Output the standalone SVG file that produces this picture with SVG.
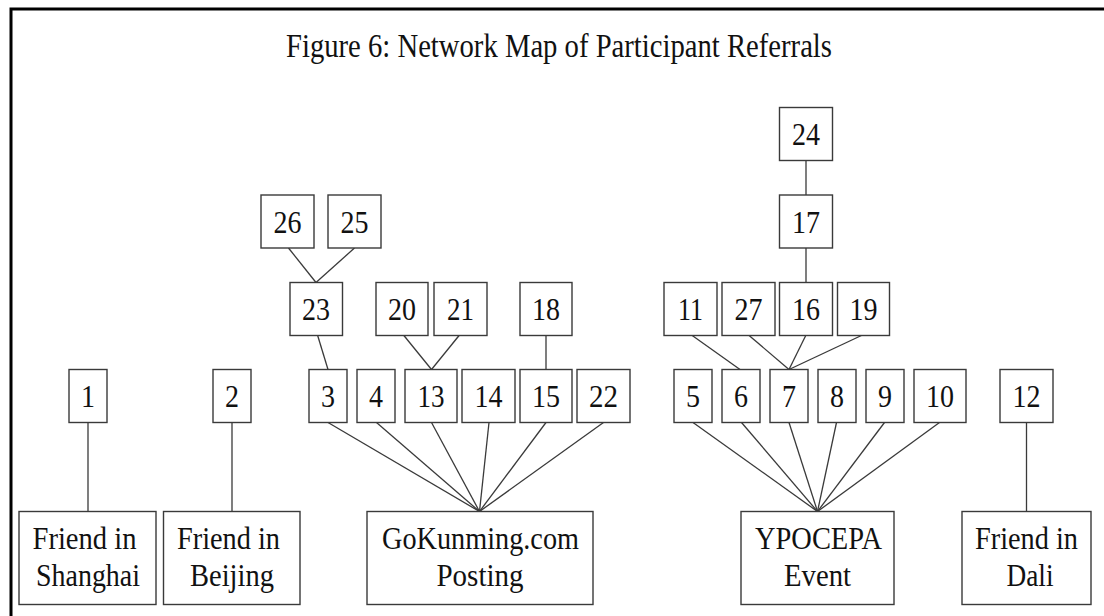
<svg xmlns="http://www.w3.org/2000/svg" width="1104" height="616" viewBox="0 0 1104 616">
<style>
.b{fill:#fff;stroke:#3a3a3a;stroke-width:1.4}
.t{font-family:"Liberation Serif","Times New Roman",serif;font-size:32px;fill:#111;text-anchor:middle}
.l{font-family:"Liberation Serif","Times New Roman",serif;font-size:31px;fill:#111;text-anchor:middle}
#connectors line{stroke:#3a3a3a;stroke-width:1.3}
</style>
<rect width="1104" height="616" fill="#fff"/>
<path d="M11,620 V9 H1110" fill="none" stroke="#000" stroke-width="3"/>
<text x="559" y="57" font-family="Liberation Serif, Times New Roman, serif" font-size="33" fill="#111" text-anchor="middle" textLength="546" lengthAdjust="spacingAndGlyphs">Figure 6: Network Map of Participant Referrals</text>
<g id="connectors">
<line x1="88" y1="422.5" x2="88" y2="511.5"/>
<line x1="232" y1="422.5" x2="232" y2="511.5"/>
<line x1="1026.5" y1="422.5" x2="1026.5" y2="511.5"/>
<line x1="328" y1="422.5" x2="479.5" y2="511.5"/>
<line x1="376.5" y1="422.5" x2="479.5" y2="511.5"/>
<line x1="431.5" y1="422.5" x2="479.5" y2="511.5"/>
<line x1="489" y1="422.5" x2="479.5" y2="511.5"/>
<line x1="546" y1="422.5" x2="479.5" y2="511.5"/>
<line x1="603.5" y1="422.5" x2="479.5" y2="511.5"/>
<line x1="693" y1="422.5" x2="817.5" y2="511.5"/>
<line x1="741.5" y1="422.5" x2="817.5" y2="511.5"/>
<line x1="789" y1="422.5" x2="817.5" y2="511.5"/>
<line x1="836.5" y1="422.5" x2="817.5" y2="511.5"/>
<line x1="884.5" y1="422.5" x2="817.5" y2="511.5"/>
<line x1="939.5" y1="422.5" x2="817.5" y2="511.5"/>
<line x1="317.5" y1="335" x2="328" y2="369.5"/>
<line x1="288.5" y1="248" x2="316" y2="282.5"/>
<line x1="354.5" y1="248" x2="316" y2="282.5"/>
<line x1="403.5" y1="335" x2="431.5" y2="369.5"/>
<line x1="459.5" y1="335" x2="431.5" y2="369.5"/>
<line x1="546" y1="335" x2="546" y2="369.5"/>
<line x1="691.5" y1="335" x2="740" y2="369.5"/>
<line x1="748.5" y1="335" x2="789" y2="369.5"/>
<line x1="806" y1="335" x2="789" y2="369.5"/>
<line x1="862.5" y1="335" x2="789" y2="369.5"/>
<line x1="806" y1="248" x2="806" y2="282.5"/>
<line x1="806" y1="160.5" x2="806" y2="195"/>
</g>
<g id="n1"><rect class="b" x="69" y="369.5" width="38" height="53"/><text class="t" x="88" y="407" textLength="14" lengthAdjust="spacingAndGlyphs">1</text></g>
<g id="n2"><rect class="b" x="213" y="369.5" width="38" height="53"/><text class="t" x="232" y="407" textLength="14" lengthAdjust="spacingAndGlyphs">2</text></g>
<g id="n3"><rect class="b" x="309" y="369.5" width="38" height="53"/><text class="t" x="328" y="407" textLength="14" lengthAdjust="spacingAndGlyphs">3</text></g>
<g id="n4"><rect class="b" x="357" y="369.5" width="38" height="53"/><text class="t" x="376" y="407" textLength="14" lengthAdjust="spacingAndGlyphs">4</text></g>
<g id="n13"><rect class="b" x="405" y="369.5" width="52" height="53"/><text class="t" x="431" y="407" textLength="27" lengthAdjust="spacingAndGlyphs">13</text></g>
<g id="n14"><rect class="b" x="462" y="369.5" width="53" height="53"/><text class="t" x="488.5" y="407" textLength="28" lengthAdjust="spacingAndGlyphs">14</text></g>
<g id="n15"><rect class="b" x="520" y="369.5" width="52" height="53"/><text class="t" x="546" y="407" textLength="28" lengthAdjust="spacingAndGlyphs">15</text></g>
<g id="n22"><rect class="b" x="577" y="369.5" width="53" height="53"/><text class="t" x="603.5" y="407" textLength="29" lengthAdjust="spacingAndGlyphs">22</text></g>
<g id="n5"><rect class="b" x="674" y="369.5" width="38" height="53"/><text class="t" x="693" y="407" textLength="14" lengthAdjust="spacingAndGlyphs">5</text></g>
<g id="n6"><rect class="b" x="722" y="369.5" width="38" height="53"/><text class="t" x="741" y="407" textLength="14" lengthAdjust="spacingAndGlyphs">6</text></g>
<g id="n7"><rect class="b" x="770" y="369.5" width="38" height="53"/><text class="t" x="789" y="407" textLength="14" lengthAdjust="spacingAndGlyphs">7</text></g>
<g id="n8"><rect class="b" x="818" y="369.5" width="38" height="53"/><text class="t" x="837" y="407" textLength="14" lengthAdjust="spacingAndGlyphs">8</text></g>
<g id="n9"><rect class="b" x="866" y="369.5" width="38" height="53"/><text class="t" x="885" y="407" textLength="14" lengthAdjust="spacingAndGlyphs">9</text></g>
<g id="n10"><rect class="b" x="914" y="369.5" width="52" height="53"/><text class="t" x="940" y="407" textLength="28" lengthAdjust="spacingAndGlyphs">10</text></g>
<g id="n12"><rect class="b" x="1000" y="369.5" width="53" height="53"/><text class="t" x="1026.5" y="407" textLength="28" lengthAdjust="spacingAndGlyphs">12</text></g>
<g id="n23"><rect class="b" x="290" y="282.5" width="52.5" height="53"/><text class="t" x="316" y="320" textLength="28" lengthAdjust="spacingAndGlyphs">23</text></g>
<g id="n20"><rect class="b" x="376" y="282.5" width="52" height="53"/><text class="t" x="402" y="320" textLength="28" lengthAdjust="spacingAndGlyphs">20</text></g>
<g id="n21"><rect class="b" x="434" y="282.5" width="53" height="53"/><text class="t" x="460.5" y="320" textLength="27" lengthAdjust="spacingAndGlyphs">21</text></g>
<g id="n18"><rect class="b" x="520" y="282.5" width="52" height="53"/><text class="t" x="546" y="320" textLength="28" lengthAdjust="spacingAndGlyphs">18</text></g>
<g id="n11"><rect class="b" x="664" y="282.5" width="53" height="53"/><text class="t" x="690.5" y="320" textLength="25" lengthAdjust="spacingAndGlyphs">11</text></g>
<g id="n27"><rect class="b" x="722" y="282.5" width="53" height="53"/><text class="t" x="748.5" y="320" textLength="28" lengthAdjust="spacingAndGlyphs">27</text></g>
<g id="n16"><rect class="b" x="779.5" y="282.5" width="53" height="53"/><text class="t" x="806" y="320" textLength="28" lengthAdjust="spacingAndGlyphs">16</text></g>
<g id="n19"><rect class="b" x="837.5" y="282.5" width="52" height="53"/><text class="t" x="863.5" y="320" textLength="28" lengthAdjust="spacingAndGlyphs">19</text></g>
<g id="n26"><rect class="b" x="261" y="195" width="53" height="53"/><text class="t" x="287.5" y="232.5" textLength="28" lengthAdjust="spacingAndGlyphs">26</text></g>
<g id="n25"><rect class="b" x="328" y="195" width="53" height="53"/><text class="t" x="354.5" y="232.5" textLength="28" lengthAdjust="spacingAndGlyphs">25</text></g>
<g id="n17"><rect class="b" x="779.5" y="195" width="53" height="53"/><text class="t" x="806" y="232.5" textLength="28" lengthAdjust="spacingAndGlyphs">17</text></g>
<g id="n24"><rect class="b" x="779.5" y="107.5" width="53" height="53"/><text class="t" x="806" y="145" textLength="28" lengthAdjust="spacingAndGlyphs">24</text></g>
<g id="shanghai"><rect class="b" x="19" y="511.5" width="137" height="93"/><text class="l" x="84.5" y="548.5" textLength="104" lengthAdjust="spacingAndGlyphs">Friend in</text><text class="l" x="88" y="586" textLength="104" lengthAdjust="spacingAndGlyphs">Shanghai</text></g>
<g id="beijing"><rect class="b" x="163.5" y="511.5" width="136.5" height="93"/><text class="l" x="228.5" y="548.5" textLength="103" lengthAdjust="spacingAndGlyphs">Friend in</text><text class="l" x="232" y="586" textLength="84" lengthAdjust="spacingAndGlyphs">Beijing</text></g>
<g id="gokunming"><rect class="b" x="367" y="511.5" width="226" height="93"/><text class="l" x="480.5" y="548.5" textLength="197" lengthAdjust="spacingAndGlyphs">GoKunming.com</text><text class="l" x="480" y="586" textLength="87" lengthAdjust="spacingAndGlyphs">Posting</text></g>
<g id="ypocepa"><rect class="b" x="741" y="511.5" width="153" height="93"/><text class="l" x="818.5" y="548.5" textLength="127" lengthAdjust="spacingAndGlyphs">YPOCEPA</text><text class="l" x="817.5" y="586" textLength="67" lengthAdjust="spacingAndGlyphs">Event</text></g>
<g id="dali"><rect class="b" x="962" y="511.5" width="129" height="93"/><text class="l" x="1026.5" y="548.5" textLength="103" lengthAdjust="spacingAndGlyphs">Friend in</text><text class="l" x="1030" y="586" textLength="47" lengthAdjust="spacingAndGlyphs">Dali</text></g>
</svg>
